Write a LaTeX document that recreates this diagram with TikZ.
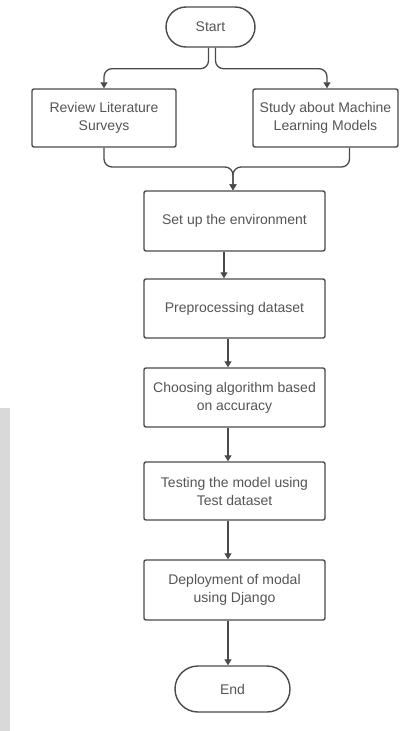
\documentclass[tikz,border=0pt]{standalone}
\usepackage{fontspec}
\setmainfont{Liberation Sans}
\usetikzlibrary{arrows.meta,positioning}
\definecolor{ln}{HTML}{4A4A4A}
\definecolor{tx}{HTML}{555555}
\tikzset{
  base/.style={draw=ln, line width=1.4pt, text=tx, align=center, font=\fontsize{14}{18}\selectfont, inner sep=0pt},
  stepbox/.style={base, rounded corners=2pt, minimum width=181pt, minimum height=60pt},
  sidebox/.style={base, rounded corners=2pt, minimum width=144pt, minimum height=58pt},
  term/.style={base, rounded corners=20pt},
  conn/.style={draw=ln, line width=1.3pt, -{Triangle[length=6pt,width=7pt]}},
  plain/.style={draw=ln, line width=1.3pt}
}
\begin{document}
\begin{tikzpicture}[x=1pt,y=-1pt]
\useasboundingbox (0,0) rectangle (406,731);
\fill[white] (0,0) rectangle (406,731);
\fill[black!15] (0,408) rectangle (10,731);
\node[term, minimum width=89pt, minimum height=40pt] (start) at (210.5,27) {Start};
\node[sidebox] (lit) at (104,118) {Review Literature\\Surveys};
\node[sidebox, minimum width=145pt] (ml) at (325.5,118) {Study about Machine\\Learning Models};
\node[stepbox] (setup) at (234.5,221) {Set up the environment};
\node[stepbox, minimum height=59pt] (pre) at (234.5,308.5) {Preprocessing dataset};
\node[stepbox, minimum height=59pt] (choose) at (234.5,397.5) {Choosing algorithm based\\on accuracy};
\node[stepbox, minimum height=58pt] (test) at (234.5,491) {Testing the model using\\Test dataset};
\node[stepbox] (deploy) at (234.5,590) {Deployment of modal\\using Django};
\node[term, minimum width=115pt, minimum height=46pt, rounded corners=23pt] (end) at (232.5,689) {End};
\coordinate (m) at (233,167);
\draw[conn, rounded corners=8pt] ([xshift=-2pt]start.south) -- ++(0,21) -| (lit.north);
\draw[conn, rounded corners=8pt] ([xshift=5pt]start.south) -- ++(0,21) -| ([xshift=1.5pt]ml.north);
\draw[conn, rounded corners=8pt] (lit.south) |- (m) -- (setup.north -| m);
\draw[conn, rounded corners=8pt] ([xshift=24pt]ml.south) |- (m) -- (setup.north -| m);
\draw[conn] ([xshift=-10.5pt]setup.south) -- ([xshift=-10.5pt]pre.north);
\draw[conn] ([xshift=-6.5pt]pre.south) -- ([xshift=-6.5pt]choose.north);
\draw[conn] ([xshift=-6.5pt]choose.south) -- ([xshift=-6.5pt]test.north);
\draw[conn] ([xshift=-6.5pt]test.south) -- ([xshift=-6.5pt]deploy.north);
\draw[conn] ([xshift=-6.5pt]deploy.south) -- (end.north -| {228,0});
\end{tikzpicture}
\end{document}
